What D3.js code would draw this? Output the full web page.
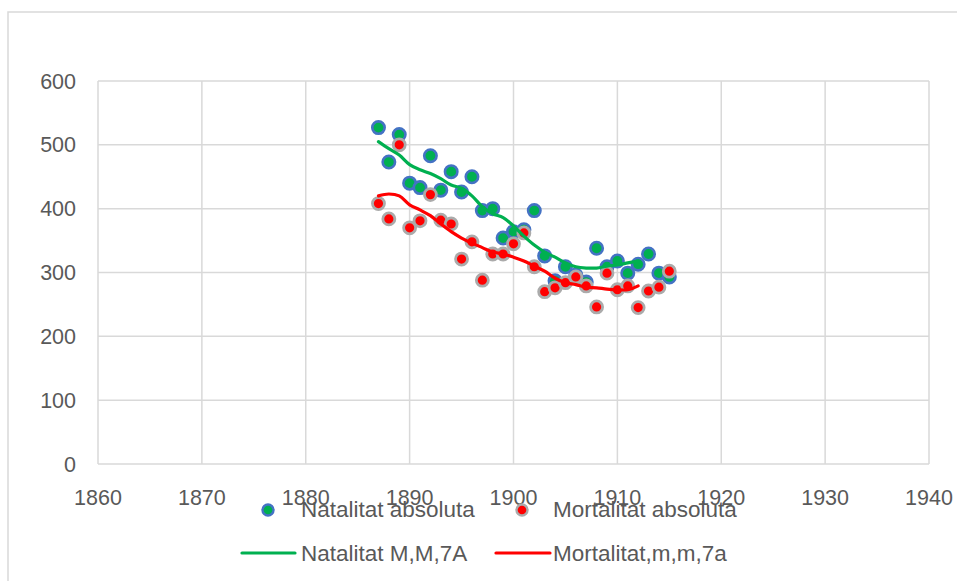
<!DOCTYPE html>
<html>
<head>
<meta charset="utf-8">
<script src="https://cdn.jsdelivr.net/npm/d3@7"></script>
<style>
  body { margin: 0; background: #fff; }
  text { font-family: "Liberation Sans", Arial, sans-serif; fill: #595959; }
</style>
</head>
<body>
<div id="chart"></div>
<script>
  const WIDTH = 957
  const HEIGHT = 581

  // dades: anys i valors absoluts
  const YEARS = [1887, 1888, 1889, 1890, 1891, 1892, 1893, 1894, 1895, 1896,
    1897, 1898, 1899, 1900, 1901, 1902, 1903, 1904, 1905, 1906,
    1907, 1908, 1909, 1910, 1911, 1912, 1913, 1914, 1915]
  const NATALITAT = [527, 473, 516, 440, 433, 483, 429, 458, 426, 450,
    397, 400, 354, 364, 367, 397, 326, 287, 309, 296,
    285, 338, 309, 318, 299, 313, 329, 299, 293]
  const MORTALITAT = [408, 384, 500, 370, 381, 422, 382, 376, 321, 348,
    288, 329, 329, 345, 362, 309, 270, 276, 284, 293,
    279, 246, 299, 273, 279, 245, 271, 277, 302]

  // mitjanes mòbils (7 anys)
  const MM_YEARS = [1887, 1888, 1889, 1890, 1891, 1892, 1893, 1894, 1895, 1896,
    1897, 1898, 1899, 1900, 1901, 1902, 1903, 1904, 1905, 1906,
    1907, 1908, 1909, 1910, 1911, 1912]
  const NATALITAT_MM = [505, 494, 484, 469, 461, 455, 447, 437, 432, 420,
    403, 392, 386, 373, 357, 343, 332, 324, 315, 309,
    307, 307, 310, 312, 315, 318]
  const MORTALITAT_MM = [420, 423, 420, 406, 398, 389, 376, 364, 354, 346,
    339, 332, 329, 324, 318, 310, 302, 291, 284, 281,
    277, 276, 274, 273, 273, 279]

  const X_TICKS = [1860, 1870, 1880, 1890, 1900, 1910, 1920, 1930, 1940]
  const Y_TICKS = [0, 100, 200, 300, 400, 500, 600]

  const GREEN = '#00B050'
  const RED = '#FF0000'
  const GRID = '#D9D9D9'

  const svg = d3.select('#chart').append('svg')
    .attr('width', WIDTH)
    .attr('height', HEIGHT)

  // marc del gràfic
  svg.append('rect')
    .attr('x', 8).attr('y', 12)
    .attr('width', 980).attr('height', 600)
    .attr('fill', '#fff')
    .attr('stroke', GRID)
    .attr('stroke-width', 1.5)

  const x = d3.scaleLinear().domain([1860, 1940]).range([98, 929])
  const y = d3.scaleLinear().domain([0, 600]).range([464, 81])

  // graella
  svg.append('g').selectAll('line')
    .data(Y_TICKS)
    .enter().append('line')
    .attr('x1', x(1860)).attr('x2', x(1940))
    .attr('y1', d => y(d)).attr('y2', d => y(d))
    .attr('stroke', GRID).attr('stroke-width', 1.5)

  svg.append('g').selectAll('line')
    .data(X_TICKS)
    .enter().append('line')
    .attr('x1', d => x(d)).attr('x2', d => x(d))
    .attr('y1', y(0)).attr('y2', y(600))
    .attr('stroke', GRID).attr('stroke-width', 1.5)

  // eixos
  svg.append('g').selectAll('text')
    .data(Y_TICKS)
    .enter().append('text')
    .attr('x', 76)
    .attr('y', d => y(d) + 7.5)
    .attr('text-anchor', 'end')
    .attr('font-size', 21.5)
    .text(d => d)

  svg.append('g').selectAll('text')
    .data(X_TICKS)
    .enter().append('text')
    .attr('x', d => x(d))
    .attr('y', 505)
    .attr('text-anchor', 'middle')
    .attr('font-size', 21.5)
    .text(d => d)

  // punts
  svg.append('g').selectAll('circle')
    .data(YEARS)
    .enter().append('circle')
    .attr('cx', d => x(d))
    .attr('cy', (d, i) => y(NATALITAT[i]))
    .attr('r', 6.2)
    .attr('fill', GREEN)
    .attr('stroke', '#4472C4')
    .attr('stroke-width', 2.6)

  svg.append('g').selectAll('circle')
    .data(YEARS)
    .enter().append('circle')
    .attr('cx', d => x(d))
    .attr('cy', (d, i) => y(MORTALITAT[i]))
    .attr('r', 6)
    .attr('fill', RED)
    .attr('stroke', '#ABABAB')
    .attr('stroke-width', 2.8)

  // línies suavitzades
  const line = d3.line()
    .x(d => x(d[0]))
    .y(d => y(d[1]))
    .curve(d3.curveCatmullRom.alpha(0.5))

  svg.append('path')
    .attr('d', line(MM_YEARS.map((yr, i) => [yr, NATALITAT_MM[i]])))
    .attr('fill', 'none')
    .attr('stroke', GREEN)
    .attr('stroke-width', 3.2)
    .attr('stroke-linecap', 'round')

  svg.append('path')
    .attr('d', line(MM_YEARS.map((yr, i) => [yr, MORTALITAT_MM[i]])))
    .attr('fill', 'none')
    .attr('stroke', RED)
    .attr('stroke-width', 3.2)
    .attr('stroke-linecap', 'round')

  // llegenda
  const legend = svg.append('g').attr('font-size', 22.5)

  legend.append('circle')
    .attr('cx', 268).attr('cy', 510).attr('r', 5.5)
    .attr('fill', GREEN).attr('stroke', '#4472C4').attr('stroke-width', 2.4)
  legend.append('text').attr('x', 301).attr('y', 517).text('Natalitat absoluta')

  legend.append('circle')
    .attr('cx', 522).attr('cy', 510).attr('r', 5.5)
    .attr('fill', RED).attr('stroke', '#ABABAB').attr('stroke-width', 2.4)
  legend.append('text').attr('x', 553).attr('y', 517).text('Mortalitat absoluta')

  legend.append('line')
    .attr('x1', 242).attr('x2', 295).attr('y1', 553).attr('y2', 553)
    .attr('stroke', GREEN).attr('stroke-width', 3.2).attr('stroke-linecap', 'round')
  legend.append('text').attr('x', 301).attr('y', 561).text('Natalitat M,M,7A')

  legend.append('line')
    .attr('x1', 496).attr('x2', 550).attr('y1', 553).attr('y2', 553)
    .attr('stroke', RED).attr('stroke-width', 3.2).attr('stroke-linecap', 'round')
  legend.append('text').attr('x', 553).attr('y', 561).text('Mortalitat,m,m,7a')
</script>
</body>
</html>
